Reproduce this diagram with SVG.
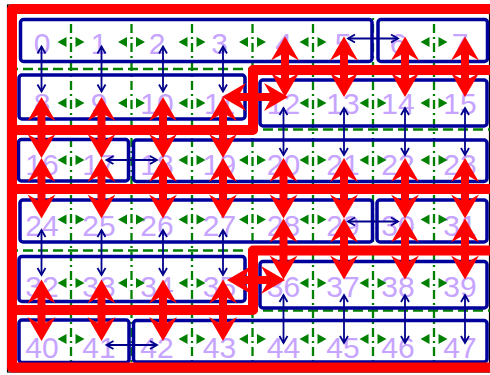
<svg xmlns="http://www.w3.org/2000/svg" width="490" height="375" viewBox="0 0 490 375">
<style>
.grid{stroke:#008000;stroke-width:2.3;fill:none}
.gv{stroke-dasharray:9,4,2,4}
.gh{stroke-dasharray:10,5}
.box{fill:none;stroke:#00009a;stroke-width:3.5}
.lbl{font-family:"Liberation Sans",Arial,sans-serif;font-size:30px;fill:#c6a4ff;text-anchor:middle}
.ba{stroke:#00008b;stroke-width:1.8;marker-start:url(#bh);marker-end:url(#bh)}
.ra{stroke:#ff0000;stroke-width:8;marker-start:url(#rh);marker-end:url(#rh)}
.part{stroke:#ff0000;stroke-width:10;fill:none;stroke-linejoin:round}
</style>
<defs>
<g id="ga"><path d="M-4.5,-5L-13.5,0L-4.5,5ZM4.5,-5L13.5,0L4.5,5Z" fill="#008000"/></g>
<marker id="bh" markerUnits="userSpaceOnUse" orient="auto-start-reverse" refX="0" refY="0" markerWidth="20" markerHeight="20" viewBox="-10 -10 20 20" overflow="visible"><path d="M-7,-4 L0,0 L-7,4" fill="none" stroke="#00008b" stroke-width="1.8"/></marker>
<marker id="rh" markerUnits="userSpaceOnUse" orient="auto-start-reverse" refX="14" refY="0" markerWidth="40" markerHeight="40" viewBox="-5 -20 40 40" overflow="visible"><path d="M0,-14 L24,0 L0,14 L8,0 Z" fill="#ff0000"/></marker>
</defs>
<rect x="0" y="0" width="490" height="375" fill="#ffffff"/>
<rect x="7.5" y="5" width="482" height="367" fill="none" stroke="#000000" stroke-width="1.2"/>
<g id="gridlines">
<path class="grid gv" d="M71,5V372M131.5,5V372M192,5V372M252.5,5V372M313,5V372M373,5V372M434,5V372"/>
<path class="grid gh" d="M8,69H490M8,129.5H490M8,190H490M8,250.5H490M8,310.5H490"/>
</g>
<g id="boxes">
<rect id="box-0-5" class="box" x="20.5" y="19.5" width="351.5" height="42" rx="3"/>
<rect id="box-6-7" class="box" x="378" y="19.5" width="109.5" height="42" rx="3"/>
<rect id="box-8-11" class="box" x="19" y="75" width="226" height="44" rx="3"/>
<rect id="box-12-15" class="box" x="260" y="80" width="227" height="46" rx="3"/>
<rect id="box-16-17" class="box" x="18.5" y="139.5" width="110" height="41.5" rx="3"/>
<rect id="box-18-23" class="box" x="133.5" y="140" width="353.5" height="41.5" rx="3"/>
<rect id="box-24-29" class="box" x="20" y="200" width="352.5" height="42" rx="3"/>
<rect id="box-30-31" class="box" x="377" y="200" width="110" height="42" rx="3"/>
<rect id="box-32-35" class="box" x="19" y="256.5" width="226" height="45" rx="3"/>
<rect id="box-36-39" class="box" x="260" y="261.5" width="227" height="46.5" rx="3"/>
<rect id="box-40-41" class="box" x="19" y="320" width="110" height="42.5" rx="3"/>
<rect id="box-42-47" class="box" x="133.5" y="320.5" width="353.5" height="41.5" rx="3"/>
</g>
<g id="nodes">
<g id="n0"><text class="lbl" x="42" y="53.5">0</text></g>
<g id="n1"><text class="lbl" x="99" y="53.5">1</text></g>
<g id="n2"><text class="lbl" x="157" y="53.5">2</text></g>
<g id="n3"><text class="lbl" x="219.5" y="53.5">3</text></g>
<g id="n4"><text class="lbl" x="283.5" y="53.5">4</text></g>
<g id="n5"><text class="lbl" x="343" y="53.5">5</text></g>
<g id="n6"><text class="lbl" x="398" y="53.5">6</text></g>
<g id="n7"><text class="lbl" x="460" y="53.5">7</text></g>
<g id="n8"><text class="lbl" x="42" y="114">8</text></g>
<g id="n9"><text class="lbl" x="99" y="114">9</text></g>
<g id="n10"><text class="lbl" x="157" y="114">10</text></g>
<g id="n11"><text class="lbl" x="219.5" y="114">11</text></g>
<g id="n12"><text class="lbl" x="283.5" y="114">12</text></g>
<g id="n13"><text class="lbl" x="343" y="114">13</text></g>
<g id="n14"><text class="lbl" x="398" y="114">14</text></g>
<g id="n15"><text class="lbl" x="460" y="114">15</text></g>
<g id="n16"><text class="lbl" x="42" y="175">16</text></g>
<g id="n17"><text class="lbl" x="99" y="175">17</text></g>
<g id="n18"><text class="lbl" x="157" y="175">18</text></g>
<g id="n19"><text class="lbl" x="219.5" y="175">19</text></g>
<g id="n20"><text class="lbl" x="283.5" y="175">20</text></g>
<g id="n21"><text class="lbl" x="343" y="175">21</text></g>
<g id="n22"><text class="lbl" x="398" y="175">22</text></g>
<g id="n23"><text class="lbl" x="460" y="175">23</text></g>
<g id="n24"><text class="lbl" x="42" y="235.5">24</text></g>
<g id="n25"><text class="lbl" x="99" y="235.5">25</text></g>
<g id="n26"><text class="lbl" x="157" y="235.5">26</text></g>
<g id="n27"><text class="lbl" x="219.5" y="235.5">27</text></g>
<g id="n28"><text class="lbl" x="283.5" y="235.5">28</text></g>
<g id="n29"><text class="lbl" x="343" y="235.5">29</text></g>
<g id="n30"><text class="lbl" x="398" y="235.5">30</text></g>
<g id="n31"><text class="lbl" x="460" y="235.5">31</text></g>
<g id="n32"><text class="lbl" x="42" y="296.5">32</text></g>
<g id="n33"><text class="lbl" x="99" y="296.5">33</text></g>
<g id="n34"><text class="lbl" x="157" y="296.5">34</text></g>
<g id="n35"><text class="lbl" x="219.5" y="296.5">35</text></g>
<g id="n36"><text class="lbl" x="283.5" y="296.5">36</text></g>
<g id="n37"><text class="lbl" x="343" y="296.5">37</text></g>
<g id="n38"><text class="lbl" x="398" y="296.5">38</text></g>
<g id="n39"><text class="lbl" x="460" y="296.5">39</text></g>
<g id="n40"><text class="lbl" x="42" y="358">40</text></g>
<g id="n41"><text class="lbl" x="99" y="358">41</text></g>
<g id="n42"><text class="lbl" x="157" y="358">42</text></g>
<g id="n43"><text class="lbl" x="219.5" y="358">43</text></g>
<g id="n44"><text class="lbl" x="283.5" y="358">44</text></g>
<g id="n45"><text class="lbl" x="343" y="358">45</text></g>
<g id="n46"><text class="lbl" x="398" y="358">46</text></g>
<g id="n47"><text class="lbl" x="460" y="358">47</text></g>
</g>
<g id="connectors">
<g id="green-links">
<use href="#ga" x="71" y="42"/><use href="#ga" x="131.5" y="42"/><use href="#ga" x="192" y="42"/><use href="#ga" x="252.5" y="42"/><use href="#ga" x="313" y="42"/><use href="#ga" x="434" y="42"/>
<use href="#ga" x="71" y="103"/><use href="#ga" x="131.5" y="103"/><use href="#ga" x="192" y="103"/><use href="#ga" x="313" y="103"/><use href="#ga" x="373" y="103"/><use href="#ga" x="434" y="103"/>
<use href="#ga" x="71" y="160"/><use href="#ga" x="192" y="160"/><use href="#ga" x="252.5" y="160"/><use href="#ga" x="313" y="160"/><use href="#ga" x="373" y="160"/><use href="#ga" x="434" y="160"/>
<use href="#ga" x="71" y="219.5"/><use href="#ga" x="131.5" y="219.5"/><use href="#ga" x="192" y="219.5"/><use href="#ga" x="252.5" y="219.5"/><use href="#ga" x="313" y="219.5"/><use href="#ga" x="434" y="219.5"/>
<use href="#ga" x="71" y="283"/><use href="#ga" x="131.5" y="283"/><use href="#ga" x="192" y="283"/><use href="#ga" x="313" y="283"/><use href="#ga" x="373" y="283"/><use href="#ga" x="434" y="283"/>
<use href="#ga" x="71" y="339"/><use href="#ga" x="192" y="339"/><use href="#ga" x="252.5" y="339"/><use href="#ga" x="313" y="339"/><use href="#ga" x="373" y="339"/><use href="#ga" x="434" y="339"/>
</g>
<g id="blue-links">
<path class="ba" d="M41.5,46.5V91.5"/><path class="ba" d="M101.5,46.5V91.5"/><path class="ba" d="M163,46.5V91.5"/><path class="ba" d="M223,46.5V91.5"/>
<path class="ba" d="M283.5,108V155"/><path class="ba" d="M344,108V155"/><path class="ba" d="M405,108V155"/><path class="ba" d="M465,108V155"/>
<path class="ba" d="M41.5,230V275"/><path class="ba" d="M101.5,230V275"/><path class="ba" d="M163,230V275"/><path class="ba" d="M223,230V275"/>
<path class="ba" d="M283.5,295V343"/><path class="ba" d="M344,295V343"/><path class="ba" d="M405,295V343"/><path class="ba" d="M465,295V343"/>
<path class="ba" d="M348,38.5H398"/><path class="ba" d="M106.5,160H157"/><path class="ba" d="M348,221.5H398"/><path class="ba" d="M106.5,345H157"/>
</g>
<g id="partitions">
<path class="part" d="M495,9H12V367.5H495"/>
<path class="part" d="M495,70H253V130H12"/>
<path class="part" d="M495,189H12"/>
<path class="part" d="M495,250.5H253V310H12"/>
</g>
<g id="red-links">
<path class="ra" d="M285,46.5V87"/><path class="ra" d="M344,46.5V87"/><path class="ra" d="M405,46.5V87"/><path class="ra" d="M465,46.5V87"/>
<path class="ra" d="M41.5,107V148"/><path class="ra" d="M101.5,107V148"/><path class="ra" d="M163,107V148"/><path class="ra" d="M223,107V148"/>
<path class="ra" d="M41.5,168V208.5"/><path class="ra" d="M101.5,168V208.5"/><path class="ra" d="M163,168V208.5"/><path class="ra" d="M223,168V208.5"/>
<path class="ra" d="M283.5,168V208.5"/><path class="ra" d="M344,168V208.5"/><path class="ra" d="M405,168V208.5"/><path class="ra" d="M465,168V208.5"/>
<path class="ra" d="M283.5,228.5V269.5"/><path class="ra" d="M344,228.5V269.5"/><path class="ra" d="M405,228.5V269.5"/><path class="ra" d="M465,228.5V269.5"/>
<path class="ra" d="M41.5,289.5V331"/><path class="ra" d="M101.5,289.5V331"/><path class="ra" d="M163,289.5V331"/><path class="ra" d="M223,289.5V331"/>
<path class="ra" d="M232,97H278"/>
<path class="ra" d="M237,280H275"/>
</g>
</g>
</svg>
